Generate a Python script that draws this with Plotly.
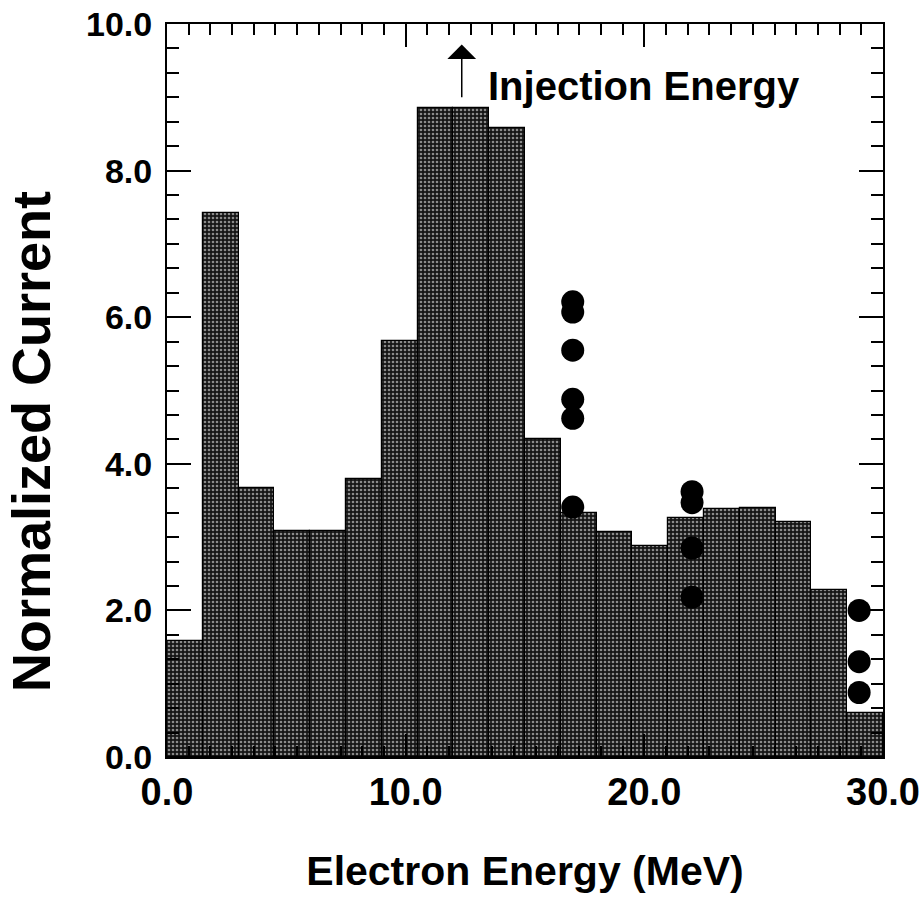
import plotly.graph_objects as go

# Histogram bins (centre of each 1.5 MeV bin) and normalized current
bin_centers = [0.75, 2.25, 3.75, 5.25, 6.75, 8.25, 9.75, 11.25, 12.75, 14.25,
               15.75, 17.25, 18.75, 20.25, 21.75, 23.25, 24.75, 26.25, 27.75, 29.25]
bin_width = [1.5] * 20
current = [1.58, 7.42, 3.67, 3.08, 3.08, 3.79, 5.68, 8.85, 8.85, 8.58,
           4.34, 3.33, 3.07, 2.88, 3.26, 3.38, 3.40, 3.21, 2.28, 0.60]

# Measured points (black circles)
point_energy = [17, 17, 17, 17, 17, 17, 22, 22, 22, 22, 29, 29, 29]
point_current = [6.21, 6.07, 5.55, 4.88, 4.62, 3.41, 3.62, 3.47, 2.85, 2.18, 2.00, 1.30, 0.88]

# Injection energy marker
injection_energy = 12.35
arrow_from = 8.98
arrow_to = 9.72

FONT = "Liberation Sans, Arial, Helvetica, sans-serif"

fig = go.Figure()
fig.add_trace(go.Bar(
    x=bin_centers, y=current, width=bin_width,
    marker=dict(color="#1a1a1a",
                line=dict(color="black", width=1.2),
                pattern=dict(shape=".", fgcolor="#ffffff", bgcolor="#151515",
                             size=4, solidity=0.35)),
    showlegend=False,
))
fig.add_trace(go.Scatter(
    x=point_energy, y=point_current, mode="markers",
    marker=dict(symbol="circle", size=23, color="black"),
    showlegend=False, cliponaxis=False,
))

fig.add_annotation(
    x=injection_energy, y=arrow_to, ax=injection_energy, ay=arrow_from,
    xref="x", yref="y", axref="x", ayref="y",
    showarrow=True, arrowhead=1, arrowsize=3.2, arrowwidth=1.5, arrowcolor="black",
    text="",
)
fig.add_annotation(
    x=13.35, y=9.15, xref="x", yref="y", text="Injection Energy",
    showarrow=False, xanchor="left", yanchor="middle",
    font=dict(family=FONT, size=40, color="black", weight="bold"),
)
fig.add_annotation(
    x=-0.19, y=0.431, xref="paper", yref="paper", text="Normalized Current",
    textangle=-90, showarrow=False, xanchor="center", yanchor="middle",
    font=dict(family=FONT, size=54, color="black", weight="bold"),
)

fig.update_layout(
    width=921, height=911,
    margin=dict(l=167, r=38, t=24, b=154),
    paper_bgcolor="white", plot_bgcolor="white",
    bargap=0,
    font=dict(family=FONT, color="black"),
)
fig.update_xaxes(
    range=[0, 30], dtick=10, tick0=0, tickformat=".1f",
    showgrid=False, zeroline=False,
    showline=True, linecolor="black", linewidth=2, mirror="ticks",
    ticks="inside", ticklen=23, tickwidth=1.5, tickcolor="black",
    minor=dict(ticks="inside", ticklen=11, tickwidth=1.5, tickcolor="black",
               dtick=10 / 11, tick0=0, showgrid=False),
    tickfont=dict(family=FONT, size=38, color="black", weight="bold"),
    title=dict(text="Electron Energy (MeV)", standoff=45,
               font=dict(family=FONT, size=41, color="black", weight="bold")),
    automargin=False,
)
fig.update_yaxes(
    range=[0, 10], dtick=2, tick0=0, tickformat=".1f",
    showgrid=False, zeroline=False,
    showline=True, linecolor="black", linewidth=2, mirror="ticks",
    ticks="inside", ticklen=24, tickwidth=1.5, tickcolor="black",
    minor=dict(ticks="inside", ticklen=12, tickwidth=1.5, tickcolor="black",
               dtick=1 / 3, tick0=0, showgrid=False),
    tickfont=dict(family=FONT, size=34, color="black", weight="bold"),
    ticklabelstandoff=6,
    automargin=False,
)

fig.write_html("out.html")
